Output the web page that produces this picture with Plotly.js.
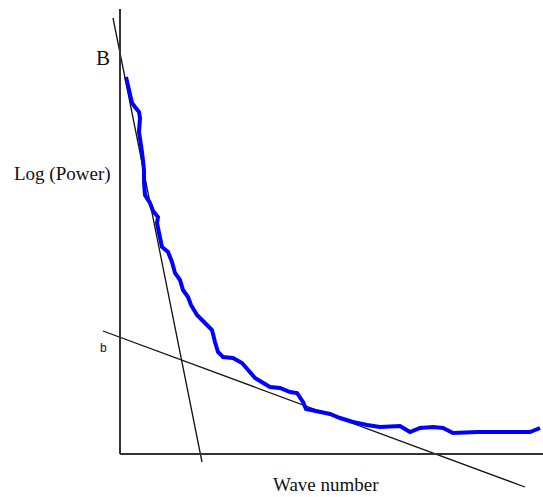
<!DOCTYPE html>
<html>
<head>
<meta charset="utf-8">
<script src="https://cdn.plot.ly/plotly-3.0.1.min.js"></script>
<style>html,body{margin:0;padding:0;background:#fff;}#chart{width:543px;height:497px;}</style>
</head>
<body>
<div id="chart"></div>
<script>
// Spectrum curve (wave number vs log power), arbitrary units
const waveNumber = [0.15,0.2,0.25,0.3,0.375,0.475,0.5,0.475,0.55,0.6,0.6,0.625,0.75,0.825,0.95,0.925,0.975,1.05,1.2,1.3,1.375,1.5,1.575,1.7,1.775,1.925,2.125,2.3,2.375,2.45,2.575,2.825,3.05,3.2,3.375,3.5,3.75,4.0,4.25,4.425,4.575,4.65,4.875,5.25,5.5,5.825,6.175,6.5,7.0,7.25,7.5,7.825,8.075,8.325,8.925,9.5,10.25,10.5];
const logPower = [9.425,9.175,9.0,8.775,8.675,8.55,8.4,8.05,7.55,7.1,6.8,6.475,6.275,6.075,5.925,5.775,5.525,5.175,5.05,4.8,4.525,4.35,4.1,3.925,3.725,3.475,3.275,3.1,2.8,2.55,2.425,2.4,2.275,2.1,1.9,1.825,1.675,1.65,1.55,1.525,1.3,1.125,1.075,1.0,0.9,0.8,0.725,0.675,0.7,0.55,0.65,0.675,0.65,0.525,0.55,0.55,0.55,0.65];

// Fitted straight lines (endpoints)
const steepX = [-0.175, 2.05];
const steepY = [10.9, -0.2];
const shallowX = [-0.425, 10.125];
const shallowY = [3.075, -0.825];

// Axis extents
const axisXMax = 10.575;
const axisYMax = 11.125;

// Labels
const labelB = "B";
const labelb = "b";
const labelY = "Log (Power)";
const labelX = "Wave number";

const traces = [
  {x: steepX, y: steepY, mode: 'lines', line: {color: '#111', width: 1.3}, hoverinfo: 'skip'},
  {x: shallowX, y: shallowY, mode: 'lines', line: {color: '#111', width: 1.3}, hoverinfo: 'skip'},
  {x: waveNumber, y: logPower, mode: 'lines', line: {color: '#0000ff', width: 4}, hoverinfo: 'skip'}
];

const serif = 'Liberation Serif, Times New Roman, serif';
const layout = {
  width: 543, height: 497,
  margin: {l: 0, r: 0, t: 0, b: 0},
  paper_bgcolor: '#fff', plot_bgcolor: '#fff',
  showlegend: false,
  xaxis: {range: [-3, 10.575], visible: false, fixedrange: true},
  yaxis: {range: [-1.075, 11.35], visible: false, fixedrange: true},
  shapes: [
    {type: 'line', xref: 'x', yref: 'y', x0: 0, y0: 0, x1: 0, y1: axisYMax, line: {color: '#333', width: 2}},
    {type: 'line', xref: 'x', yref: 'y', x0: 0, y0: 0, x1: axisXMax, y1: 0, line: {color: '#333', width: 2}}
  ],
  annotations: [
    {x: -0.425, y: 9.91, text: labelB, showarrow: false, xanchor: 'center', yanchor: 'middle', font: {family: serif, size: 21, color: '#111'}},
    {x: -1.45, y: 7.0, text: labelY, showarrow: false, xanchor: 'center', yanchor: 'middle', font: {family: serif, size: 19, color: '#111'}},
    {x: -0.41, y: 2.64, text: labelb, showarrow: false, xanchor: 'center', yanchor: 'middle', font: {family: 'Liberation Sans, Arial, sans-serif', size: 12, color: '#111'}},
    {x: 5.15, y: -0.75, text: labelX, showarrow: false, xanchor: 'center', yanchor: 'middle', font: {family: serif, size: 19, color: '#111'}}
  ]
};

Plotly.newPlot('chart', traces, layout, {displayModeBar: false, staticPlot: true});
</script>
</body>
</html>
